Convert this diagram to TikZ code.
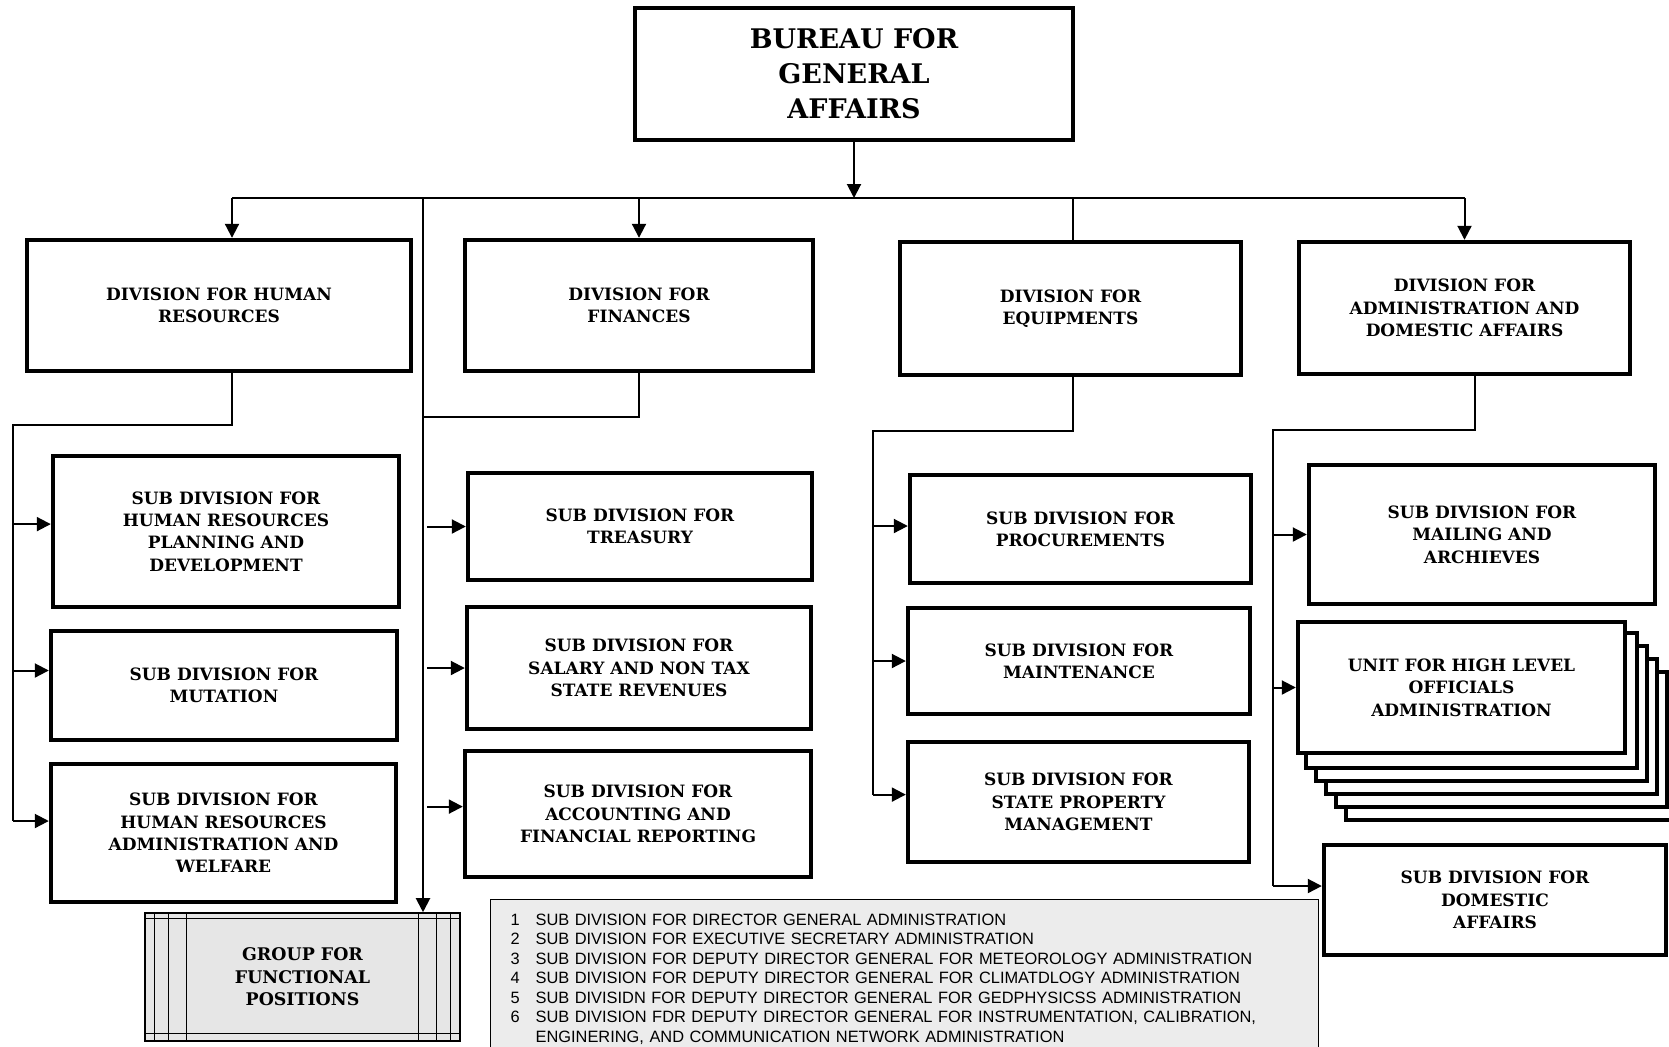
\documentclass[tikz,border=0pt]{standalone}
\usepackage{fontspec}
\setmainfont{DejaVu Serif}
\newfontfamily\notefont{Liberation Sans}
\usetikzlibrary{arrows.meta,calc,backgrounds}
\definecolor{GroupClr}{RGB}{230,230,230}
\definecolor{NoteClr}{RGB}{236,236,236}
\tikzset{
  unitbox/.style={draw,line width=2.2pt,fill=white,align=center,inner sep=0pt,
    font=\bfseries\fontsize{8.5}{11.2}\selectfont},
  link/.style={line width=1pt},
  arr/.style={link,-{Triangle[length=7pt,width=7pt]}},
}

\begin{document}
\begin{tikzpicture}[x=0.5pt,y=-0.5pt]
\useasboundingbox (0,0) rectangle (1669,1046);

\node[unitbox,minimum width=219pt,minimum height=66pt,font=\bfseries\fontsize{13.5}{17.5}\selectfont] (bga) at (854,74) {BUREAU FOR\\GENERAL\\AFFAIRS};

\node[unitbox,minimum width=192pt,minimum height=65.5pt] (dhr) at (219,305.5) {DIVISION FOR HUMAN\\RESOURCES};
\node[unitbox,minimum width=174pt,minimum height=65.5pt] (dfin) at (639,305.5) {DIVISION FOR\\FINANCES};
\node[unitbox,minimum width=170.5pt,minimum height=66.5pt] (deq) at (1070.5,308.5) {DIVISION FOR\\EQUIPMENTS};
\node[unitbox,minimum width=165.5pt,minimum height=66pt] (dad) at (1464.5,308) {DIVISION FOR\\ADMINISTRATION AND\\DOMESTIC AFFAIRS};

\node[unitbox,minimum width=173pt,minimum height=75.5pt] (shr1) at (226,531.5) {SUB DIVISION FOR\\HUMAN RESOURCES\\PLANNING AND\\DEVELOPMENT};
\node[unitbox,minimum width=173pt,minimum height=54.5pt] (shr2) at (224,685.5) {SUB DIVISION FOR\\MUTATION};
\node[unitbox,minimum width=172.5pt,minimum height=69pt] (shr3) at (223.5,833) {SUB DIVISION FOR\\HUMAN RESOURCES\\ADMINISTRATION AND\\WELFARE};

\node[unitbox,minimum width=172pt,minimum height=53.5pt] (sfin1) at (640,526.5) {SUB DIVISION FOR\\TREASURY};
\node[unitbox,minimum width=172pt,minimum height=61pt] (sfin2) at (639,668) {SUB DIVISION FOR\\SALARY AND NON TAX\\STATE REVENUES};
\node[unitbox,minimum width=173pt,minimum height=63pt] (sfin3) at (638,814) {SUB DIVISION FOR\\ACCOUNTING AND\\FINANCIAL REPORTING};

\node[unitbox,minimum width=170.5pt,minimum height=54pt] (seq1) at (1080.5,529) {SUB DIVISION FOR\\PROCUREMENTS};
\node[unitbox,minimum width=171pt,minimum height=53pt] (seq2) at (1079,661) {SUB DIVISION FOR\\MAINTENANCE};
\node[unitbox,minimum width=170.5pt,minimum height=60pt] (seq3) at (1078.5,802) {SUB DIVISION FOR\\STATE PROPERTY\\MANAGEMENT};

\node[unitbox,minimum width=173pt,minimum height=69.5pt] (sad1) at (1482,534.5) {SUB DIVISION FOR\\MAILING AND\\ARCHIEVES};
\node[unitbox,minimum width=163.5pt,minimum height=65.5pt] (sad2) at (1461.5,687.5) {UNIT FOR HIGH LEVEL\\OFFICIALS\\ADMINISTRATION};
\node[unitbox,minimum width=171pt,minimum height=55pt] (sad3) at (1495,900) {SUB DIVISION FOR\\DOMESTIC\\AFFAIRS};

\begin{scope}[on background layer]
\foreach \k in {5,4,...,1}
  \draw[line width=2.2pt,fill=white] ($(sad2.north west)+(10*\k,13*\k)$) rectangle ($(sad2.south east)+(10*\k,13*\k)$);
\end{scope}

\node[draw,line width=0.8pt,fill=GroupClr,minimum width=157.5pt,minimum height=64pt,align=center,
  font=\bfseries\fontsize{8.7}{11.2}\selectfont] (grp) at (302.5,977) {GROUP FOR\\FUNCTIONAL\\POSITIONS};
\draw[line width=0.6pt] ([yshift=-3pt]grp.north west) -- ([yshift=-3pt]grp.north east);
\draw[line width=0.6pt] ([yshift=4pt]grp.south west) -- ([yshift=4pt]grp.south east);
\foreach \d in {5,12,21}{
  \draw[line width=0.6pt] ([xshift=\d pt]grp.north west) -- ([xshift=\d pt]grp.south west);
  \draw[line width=0.6pt] ([xshift=-\d pt]grp.north east) -- ([xshift=-\d pt]grp.south east);
}

\node[draw,line width=0.6pt,fill=NoteClr,anchor=north west,minimum width=414pt,minimum height=80pt,
  inner xsep=10pt,text width=394pt,align=left,font=\notefont\fontsize{8.2}{9.75}\selectfont] (key) at (490,899)
  {\begin{tabular}{@{}p{8pt}@{\hspace{4.5pt}}l@{}}
   1 & SUB DIVISION FOR DIRECTOR GENERAL ADMINISTRATION\\
   2 & SUB DIVISION FOR EXECUTIVE SECRETARY ADMINISTRATION\\
   3 & SUB DIVISION FOR DEPUTY DIRECTOR GENERAL FOR METEOROLOGY ADMINISTRATION\\
   4 & SUB DIVISION FOR DEPUTY DIRECTOR GENERAL FOR CLIMATDLOGY ADMINISTRATION\\
   5 & SUB DIVISIDN FOR DEPUTY DIRECTOR GENERAL FOR GEDPHYSICSS ADMINISTRATION\\
   6 & SUB DIVISION FDR DEPUTY DIRECTOR GENERAL FOR INSTRUMENTATION, CALIBRATION,\\
     & ENGINERING, AND COMMUNICATION NETWORK ADMINISTRATION
   \end{tabular}};

\coordinate (bus) at (0,198);
\coordinate (gtop) at (423,198);
\draw[arr] (bga.south) -- (bga.south |- bus);
\draw[link] ([xshift=6.5pt]dhr.north |- bus) -- (dad.north |- bus);
\draw[arr] ([xshift=6.5pt]dhr.north |- bus) -- ([xshift=6.5pt]dhr.north);
\draw[arr] (dfin.north |- bus) -- (dfin.north);
\draw[link] ([xshift=1pt]deq.north |- bus) -- ([xshift=1pt]deq.north);
\draw[arr] (dad.north |- bus) -- (dad.north);
\draw[arr] (gtop) -- (gtop |- grp.north);

\coordinate (hrc) at (13,425);
\draw[link] ([xshift=6.5pt]dhr.south) |- (hrc) -- ([yshift=6pt]hrc |- shr3.west);
\foreach \s/\dy in {shr1/3.7,shr2/7.5,shr3/6}
  \draw[arr] ([yshift=\dy pt]hrc |- \s.west) -- ([yshift=\dy pt]\s.west);

\coordinate (finc) at (423,417);
\draw[link] (dfin.south) |- (finc);
\foreach \s/\dy in {sfin1/0,sfin2/0,sfin3/3.7}
  \draw[arr] ([xshift=2pt,yshift=\dy pt]finc |- \s.west) -- ([yshift=\dy pt]\s.west);

\coordinate (eqc) at (873,431);
\draw[link] ([xshift=1pt]deq.south) |- (eqc) -- ([yshift=3.7pt]eqc |- seq3.west);
\foreach \s/\dy in {seq1/1.5,seq2/0,seq3/3.7}
  \draw[arr] ([yshift=\dy pt]eqc |- \s.west) -- ([yshift=\dy pt]\s.west);

\coordinate (adc) at (1273,430);
\draw[link] ([xshift=5pt]dad.south) |- (adc) -- ([yshift=7pt]adc |- sad3.west);
\foreach \s/\dy in {sad1/0,sad2/0,sad3/7}
  \draw[arr] ([yshift=\dy pt]adc |- \s.west) -- ([yshift=\dy pt]\s.west);

\end{tikzpicture}
\end{document}
